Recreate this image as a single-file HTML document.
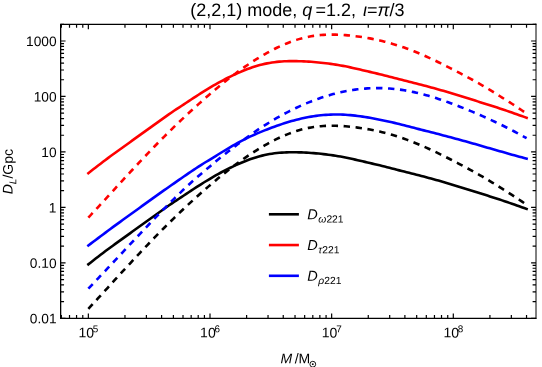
<!DOCTYPE html>
<html><head><meta charset="utf-8"><title>plot</title>
<style>
html,body{margin:0;padding:0;background:#fff;}
body{width:542px;height:367px;overflow:hidden;position:relative;font-family:"Liberation Sans",sans-serif;}
text{font-family:"Liberation Sans",sans-serif;fill:#000;text-rendering:geometricPrecision;}
.t14{font-size:14px;}
.tk{font-size:13.7px;}
.lg{font-size:14.5px;}
.sub2{font-size:10.3px;}
.t18{font-size:18px;}
.sub{font-size:10.0px;}
.sup{font-size:9.9px;}
</style></head><body>
<svg width="542" height="367" viewBox="0 0 542 367" style="position:absolute;left:0;top:0;will-change:transform">
<rect width="542" height="367" fill="#fff"/>
<path d="M88.35,264.32 L90.80,262.40 L93.25,260.49 L95.69,258.59 L98.14,256.71 L100.59,254.84 L103.04,252.96 L105.49,251.08 L107.94,249.24 L110.38,247.45 L112.83,245.69 L115.28,243.93 L117.73,242.17 L120.18,240.41 L122.63,238.64 L125.07,236.88 L127.52,235.10 L129.97,233.33 L132.42,231.55 L134.87,229.78 L137.32,228.02 L139.76,226.26 L142.21,224.50 L144.66,222.74 L147.11,220.98 L149.56,219.22 L152.01,217.47 L154.45,215.73 L156.90,213.99 L159.35,212.25 L161.80,210.52 L164.25,208.77 L166.70,207.04 L169.14,205.31 L171.59,203.60 L174.04,201.93 L176.49,200.34 L178.94,198.77 L181.39,197.15 L183.83,195.52 L186.28,193.88 L188.73,192.24 L191.18,190.63 L193.63,189.02 L196.08,187.44 L198.52,185.87 L200.97,184.31 L203.42,182.77 L205.87,181.26 L208.32,179.77 L210.77,178.30 L213.21,176.87 L215.66,175.46 L218.11,174.08 L220.56,172.74 L223.01,171.43 L225.46,170.16 L227.90,168.92 L230.35,167.72 L232.80,166.56 L235.25,165.43 L237.70,164.33 L240.15,163.25 L242.59,162.20 L245.04,161.18 L247.49,160.22 L249.94,159.32 L252.39,158.47 L254.84,157.68 L257.28,156.94 L259.73,156.25 L262.18,155.62 L264.63,155.04 L267.08,154.53 L269.53,154.07 L271.97,153.68 L274.42,153.33 L276.87,153.04 L279.32,152.80 L281.77,152.61 L284.22,152.46 L286.66,152.35 L289.11,152.28 L291.56,152.24 L294.01,152.24 L296.46,152.27 L298.91,152.33 L301.35,152.41 L303.80,152.51 L306.25,152.64 L308.70,152.80 L311.15,152.97 L313.60,153.16 L316.04,153.36 L318.49,153.58 L320.94,153.83 L323.39,154.10 L325.84,154.40 L328.29,154.72 L330.73,155.06 L333.18,155.41 L335.63,155.78 L338.08,156.17 L340.53,156.58 L342.98,157.02 L345.42,157.49 L347.87,157.99 L350.32,158.51 L352.77,159.06 L355.22,159.61 L357.67,160.17 L360.11,160.74 L362.56,161.31 L365.01,161.89 L367.46,162.47 L369.91,163.04 L372.36,163.62 L374.80,164.20 L377.25,164.77 L379.70,165.35 L382.15,165.93 L384.60,166.54 L387.05,167.16 L389.49,167.81 L391.94,168.45 L394.39,169.10 L396.84,169.74 L399.29,170.37 L401.74,170.98 L404.18,171.60 L406.63,172.22 L409.08,172.84 L411.53,173.46 L413.98,174.08 L416.43,174.71 L418.87,175.34 L421.32,175.97 L423.77,176.61 L426.22,177.25 L428.67,177.90 L431.12,178.56 L433.56,179.23 L436.01,179.91 L438.46,180.60 L440.91,181.29 L443.36,182.00 L445.81,182.71 L448.25,183.43 L450.70,184.16 L453.15,184.90 L455.60,185.65 L458.05,186.40 L460.50,187.15 L462.94,187.91 L465.39,188.68 L467.84,189.44 L470.29,190.21 L472.74,190.98 L475.19,191.75 L477.63,192.52 L480.08,193.29 L482.53,194.07 L484.98,194.84 L487.43,195.61 L489.88,196.39 L492.32,197.18 L494.77,197.97 L497.22,198.76 L499.67,199.57 L502.12,200.39 L504.57,201.21 L507.01,202.03 L509.46,202.87 L511.91,203.71 L514.36,204.57 L516.81,205.44 L519.26,206.30 L521.70,207.16 L524.15,208.04 L526.60,208.93" fill="none" stroke="#000000" stroke-width="2.6" stroke-linecap="square"/>
<path d="M88.35,173.17 L90.80,171.25 L93.25,169.34 L95.69,167.44 L98.14,165.56 L100.59,163.69 L103.04,161.81 L105.49,159.93 L107.94,158.09 L110.38,156.30 L112.83,154.54 L115.28,152.78 L117.73,151.02 L120.18,149.26 L122.63,147.49 L125.07,145.73 L127.52,143.95 L129.97,142.18 L132.42,140.40 L134.87,138.63 L137.32,136.87 L139.76,135.11 L142.21,133.35 L144.66,131.59 L147.11,129.83 L149.56,128.07 L152.01,126.32 L154.45,124.58 L156.90,122.84 L159.35,121.10 L161.80,119.37 L164.25,117.62 L166.70,115.89 L169.14,114.16 L171.59,112.45 L174.04,110.78 L176.49,109.19 L178.94,107.62 L181.39,106.00 L183.83,104.37 L186.28,102.73 L188.73,101.09 L191.18,99.48 L193.63,97.87 L196.08,96.29 L198.52,94.72 L200.97,93.16 L203.42,91.62 L205.87,90.11 L208.32,88.62 L210.77,87.15 L213.21,85.72 L215.66,84.31 L218.11,82.93 L220.56,81.59 L223.01,80.28 L225.46,79.01 L227.90,77.77 L230.35,76.57 L232.80,75.41 L235.25,74.28 L237.70,73.18 L240.15,72.10 L242.59,71.05 L245.04,70.03 L247.49,69.07 L249.94,68.17 L252.39,67.32 L254.84,66.53 L257.28,65.79 L259.73,65.10 L262.18,64.47 L264.63,63.89 L267.08,63.38 L269.53,62.92 L271.97,62.53 L274.42,62.18 L276.87,61.89 L279.32,61.65 L281.77,61.46 L284.22,61.31 L286.66,61.20 L289.11,61.13 L291.56,61.09 L294.01,61.09 L296.46,61.12 L298.91,61.18 L301.35,61.26 L303.80,61.36 L306.25,61.49 L308.70,61.65 L311.15,61.82 L313.60,62.01 L316.04,62.21 L318.49,62.43 L320.94,62.68 L323.39,62.95 L325.84,63.25 L328.29,63.57 L330.73,63.91 L333.18,64.26 L335.63,64.63 L338.08,65.02 L340.53,65.43 L342.98,65.87 L345.42,66.34 L347.87,66.84 L350.32,67.36 L352.77,67.91 L355.22,68.46 L357.67,69.02 L360.11,69.59 L362.56,70.16 L365.01,70.74 L367.46,71.32 L369.91,71.89 L372.36,72.47 L374.80,73.05 L377.25,73.62 L379.70,74.20 L382.15,74.78 L384.60,75.39 L387.05,76.01 L389.49,76.66 L391.94,77.30 L394.39,77.95 L396.84,78.59 L399.29,79.22 L401.74,79.83 L404.18,80.45 L406.63,81.07 L409.08,81.69 L411.53,82.31 L413.98,82.93 L416.43,83.56 L418.87,84.19 L421.32,84.82 L423.77,85.46 L426.22,86.10 L428.67,86.75 L431.12,87.41 L433.56,88.08 L436.01,88.76 L438.46,89.45 L440.91,90.14 L443.36,90.85 L445.81,91.56 L448.25,92.28 L450.70,93.01 L453.15,93.75 L455.60,94.50 L458.05,95.25 L460.50,96.00 L462.94,96.76 L465.39,97.53 L467.84,98.29 L470.29,99.06 L472.74,99.83 L475.19,100.60 L477.63,101.37 L480.08,102.14 L482.53,102.92 L484.98,103.69 L487.43,104.46 L489.88,105.24 L492.32,106.03 L494.77,106.82 L497.22,107.61 L499.67,108.42 L502.12,109.24 L504.57,110.06 L507.01,110.88 L509.46,111.72 L511.91,112.56 L514.36,113.42 L516.81,114.29 L519.26,115.15 L521.70,116.01 L524.15,116.89 L526.60,117.78" fill="none" stroke="#ff0000" stroke-width="2.6" stroke-linecap="square"/>
<path d="M88.35,245.51 L90.80,243.65 L93.25,241.80 L95.69,239.95 L98.14,238.10 L100.59,236.26 L103.04,234.43 L105.49,232.60 L107.94,230.78 L110.38,228.97 L112.83,227.17 L115.28,225.39 L117.73,223.61 L120.18,221.83 L122.63,220.05 L125.07,218.28 L127.52,216.51 L129.97,214.74 L132.42,212.97 L134.87,211.21 L137.32,209.44 L139.76,207.68 L142.21,205.92 L144.66,204.16 L147.11,202.40 L149.56,200.64 L152.01,198.88 L154.45,197.13 L156.90,195.39 L159.35,193.65 L161.80,191.91 L164.25,190.18 L166.70,188.46 L169.14,186.74 L171.59,185.02 L174.04,183.31 L176.49,181.61 L178.94,179.91 L181.39,178.22 L183.83,176.54 L186.28,174.86 L188.73,173.19 L191.18,171.53 L193.63,169.88 L196.08,168.25 L198.52,166.63 L200.97,165.04 L203.42,163.50 L205.87,162.00 L208.32,160.53 L210.77,159.05 L213.21,157.56 L215.66,156.04 L218.11,154.52 L220.56,153.00 L223.01,151.51 L225.46,150.03 L227.90,148.58 L230.35,147.15 L232.80,145.74 L235.25,144.36 L237.70,143.00 L240.15,141.66 L242.59,140.36 L245.04,139.09 L247.49,137.87 L249.94,136.70 L252.39,135.58 L254.84,134.49 L257.28,133.43 L259.73,132.39 L262.18,131.37 L264.63,130.38 L267.08,129.42 L269.53,128.49 L271.97,127.58 L274.42,126.69 L276.87,125.82 L279.32,124.96 L281.77,124.13 L284.22,123.32 L286.66,122.54 L289.11,121.79 L291.56,121.08 L294.01,120.40 L296.46,119.76 L298.91,119.16 L301.35,118.58 L303.80,118.04 L306.25,117.54 L308.70,117.06 L311.15,116.63 L313.60,116.23 L316.04,115.88 L318.49,115.56 L320.94,115.28 L323.39,115.04 L325.84,114.85 L328.29,114.70 L330.73,114.59 L333.18,114.53 L335.63,114.50 L338.08,114.51 L340.53,114.57 L342.98,114.65 L345.42,114.78 L347.87,114.94 L350.32,115.14 L352.77,115.37 L355.22,115.64 L357.67,115.93 L360.11,116.26 L362.56,116.60 L365.01,116.98 L367.46,117.37 L369.91,117.79 L372.36,118.22 L374.80,118.68 L377.25,119.16 L379.70,119.65 L382.15,120.15 L384.60,120.67 L387.05,121.21 L389.49,121.75 L391.94,122.31 L394.39,122.89 L396.84,123.48 L399.29,124.09 L401.74,124.70 L404.18,125.33 L406.63,125.95 L409.08,126.58 L411.53,127.22 L413.98,127.85 L416.43,128.49 L418.87,129.12 L421.32,129.74 L423.77,130.37 L426.22,130.98 L428.67,131.60 L431.12,132.22 L433.56,132.85 L436.01,133.48 L438.46,134.11 L440.91,134.75 L443.36,135.39 L445.81,136.03 L448.25,136.68 L450.70,137.34 L453.15,138.00 L455.60,138.66 L458.05,139.33 L460.50,140.00 L462.94,140.67 L465.39,141.36 L467.84,142.04 L470.29,142.73 L472.74,143.42 L475.19,144.12 L477.63,144.82 L480.08,145.52 L482.53,146.22 L484.98,146.92 L487.43,147.63 L489.88,148.33 L492.32,149.04 L494.77,149.74 L497.22,150.45 L499.67,151.15 L502.12,151.85 L504.57,152.55 L507.01,153.25 L509.46,153.94 L511.91,154.63 L514.36,155.32 L516.81,156.01 L519.26,156.69 L521.70,157.36 L524.15,158.03 L526.60,158.69" fill="none" stroke="#0000ff" stroke-width="2.6" stroke-linecap="square"/>
<path d="M88.35,308.88 L90.80,306.15 L93.25,303.46 L95.69,300.81 L98.14,298.16 L100.59,295.51 L103.04,292.86 L105.49,290.20 L107.94,287.53 L110.38,284.84 L112.83,282.16 L115.28,279.47 L117.73,276.78 L120.18,274.10 L122.63,271.44 L125.07,268.79 L127.52,266.15 L129.97,263.52 L132.42,260.89 L134.87,258.27 L137.32,255.66 L139.76,253.05 L142.21,250.46 L144.66,247.87 L147.11,245.29 L149.56,242.73 L152.01,240.18 L154.45,237.65 L156.90,235.14 L159.35,232.65 L161.80,230.17 L164.25,227.72 L166.70,225.28 L169.14,222.86 L171.59,220.46 L174.04,218.07 L176.49,215.69 L178.94,213.34 L181.39,211.01 L183.83,208.71 L186.28,206.42 L188.73,204.16 L191.18,201.91 L193.63,199.68 L196.08,197.46 L198.52,195.26 L200.97,193.07 L203.42,190.90 L205.87,188.75 L208.32,186.63 L210.77,184.52 L213.21,182.44 L215.66,180.39 L218.11,178.36 L220.56,176.35 L223.01,174.36 L225.46,172.40 L227.90,170.46 L230.35,168.56 L232.80,166.69 L235.25,164.85 L237.70,163.04 L240.15,161.27 L242.59,159.53 L245.04,157.82 L247.49,156.16 L249.94,154.52 L252.39,152.91 L254.84,151.34 L257.28,149.80 L259.73,148.30 L262.18,146.83 L264.63,145.41 L267.08,144.03 L269.53,142.69 L271.97,141.39 L274.42,140.14 L276.87,138.93 L279.32,137.78 L281.77,136.67 L284.22,135.61 L286.66,134.60 L289.11,133.63 L291.56,132.71 L294.01,131.85 L296.46,131.04 L298.91,130.28 L301.35,129.58 L303.80,128.95 L306.25,128.38 L308.70,127.87 L311.15,127.42 L313.60,127.03 L316.04,126.70 L318.49,126.41 L320.94,126.18 L323.39,126.00 L325.84,125.87 L328.29,125.78 L330.73,125.74 L333.18,125.74 L335.63,125.79 L338.08,125.86 L340.53,125.98 L342.98,126.12 L345.42,126.30 L347.87,126.51 L350.32,126.74 L352.77,127.00 L355.22,127.29 L357.67,127.60 L360.11,127.93 L362.56,128.30 L365.01,128.69 L367.46,129.11 L369.91,129.55 L372.36,130.02 L374.80,130.52 L377.25,131.05 L379.70,131.60 L382.15,132.19 L384.60,132.80 L387.05,133.44 L389.49,134.11 L391.94,134.81 L394.39,135.54 L396.84,136.29 L399.29,137.08 L401.74,137.90 L404.18,138.75 L406.63,139.63 L409.08,140.53 L411.53,141.47 L413.98,142.44 L416.43,143.43 L418.87,144.45 L421.32,145.49 L423.77,146.55 L426.22,147.64 L428.67,148.75 L431.12,149.87 L433.56,151.02 L436.01,152.19 L438.46,153.37 L440.91,154.56 L443.36,155.77 L445.81,157.00 L448.25,158.24 L450.70,159.48 L453.15,160.74 L455.60,162.01 L458.05,163.28 L460.50,164.57 L462.94,165.87 L465.39,167.17 L467.84,168.49 L470.29,169.82 L472.74,171.16 L475.19,172.51 L477.63,173.88 L480.08,175.26 L482.53,176.66 L484.98,178.10 L487.43,179.56 L489.88,181.05 L492.32,182.55 L494.77,184.07 L497.22,185.61 L499.67,187.15 L502.12,188.70 L504.57,190.24 L507.01,191.78 L509.46,193.35 L511.91,194.93 L514.36,196.52 L516.81,198.13 L519.26,199.76 L521.70,201.40 L524.15,203.06 L526.60,204.74" fill="none" stroke="#000000" stroke-width="2.6" stroke-dasharray="6.4,5.6"/>
<path d="M88.35,217.73 L90.80,215.00 L93.25,212.31 L95.69,209.66 L98.14,207.01 L100.59,204.36 L103.04,201.71 L105.49,199.05 L107.94,196.38 L110.38,193.69 L112.83,191.01 L115.28,188.32 L117.73,185.63 L120.18,182.95 L122.63,180.29 L125.07,177.64 L127.52,175.00 L129.97,172.37 L132.42,169.74 L134.87,167.12 L137.32,164.51 L139.76,161.90 L142.21,159.31 L144.66,156.72 L147.11,154.14 L149.56,151.58 L152.01,149.03 L154.45,146.50 L156.90,143.99 L159.35,141.50 L161.80,139.02 L164.25,136.57 L166.70,134.13 L169.14,131.71 L171.59,129.31 L174.04,126.92 L176.49,124.54 L178.94,122.19 L181.39,119.86 L183.83,117.56 L186.28,115.27 L188.73,113.01 L191.18,110.76 L193.63,108.53 L196.08,106.31 L198.52,104.11 L200.97,101.92 L203.42,99.75 L205.87,97.60 L208.32,95.48 L210.77,93.37 L213.21,91.29 L215.66,89.24 L218.11,87.21 L220.56,85.20 L223.01,83.21 L225.46,81.25 L227.90,79.31 L230.35,77.41 L232.80,75.54 L235.25,73.70 L237.70,71.89 L240.15,70.12 L242.59,68.38 L245.04,66.67 L247.49,65.01 L249.94,63.37 L252.39,61.76 L254.84,60.19 L257.28,58.65 L259.73,57.15 L262.18,55.68 L264.63,54.26 L267.08,52.88 L269.53,51.54 L271.97,50.24 L274.42,48.99 L276.87,47.78 L279.32,46.63 L281.77,45.52 L284.22,44.46 L286.66,43.45 L289.11,42.48 L291.56,41.56 L294.01,40.70 L296.46,39.89 L298.91,39.13 L301.35,38.43 L303.80,37.80 L306.25,37.23 L308.70,36.72 L311.15,36.27 L313.60,35.88 L316.04,35.55 L318.49,35.26 L320.94,35.03 L323.39,34.85 L325.84,34.72 L328.29,34.63 L330.73,34.59 L333.18,34.59 L335.63,34.64 L338.08,34.71 L340.53,34.83 L342.98,34.97 L345.42,35.15 L347.87,35.36 L350.32,35.59 L352.77,35.85 L355.22,36.14 L357.67,36.45 L360.11,36.78 L362.56,37.15 L365.01,37.54 L367.46,37.96 L369.91,38.40 L372.36,38.87 L374.80,39.37 L377.25,39.90 L379.70,40.45 L382.15,41.04 L384.60,41.65 L387.05,42.29 L389.49,42.96 L391.94,43.66 L394.39,44.39 L396.84,45.14 L399.29,45.93 L401.74,46.75 L404.18,47.60 L406.63,48.48 L409.08,49.38 L411.53,50.32 L413.98,51.29 L416.43,52.28 L418.87,53.30 L421.32,54.34 L423.77,55.40 L426.22,56.49 L428.67,57.60 L431.12,58.72 L433.56,59.87 L436.01,61.04 L438.46,62.22 L440.91,63.41 L443.36,64.62 L445.81,65.85 L448.25,67.09 L450.70,68.33 L453.15,69.59 L455.60,70.86 L458.05,72.13 L460.50,73.42 L462.94,74.72 L465.39,76.02 L467.84,77.34 L470.29,78.67 L472.74,80.01 L475.19,81.36 L477.63,82.73 L480.08,84.11 L482.53,85.51 L484.98,86.95 L487.43,88.41 L489.88,89.90 L492.32,91.40 L494.77,92.92 L497.22,94.46 L499.67,96.00 L502.12,97.55 L504.57,99.09 L507.01,100.63 L509.46,102.20 L511.91,103.78 L514.36,105.37 L516.81,106.98 L519.26,108.61 L521.70,110.25 L524.15,111.91 L526.60,113.59" fill="none" stroke="#ff0000" stroke-width="2.6" stroke-dasharray="6.4,5.6"/>
<path d="M88.35,288.68 L90.80,286.08 L93.25,283.49 L95.69,280.90 L98.14,278.32 L100.59,275.73 L103.04,273.14 L105.49,270.55 L107.94,267.95 L110.38,265.34 L112.83,262.74 L115.28,260.13 L117.73,257.51 L120.18,254.90 L122.63,252.28 L125.07,249.67 L127.52,247.06 L129.97,244.45 L132.42,241.84 L134.87,239.24 L137.32,236.64 L139.76,234.05 L142.21,231.46 L144.66,228.88 L147.11,226.31 L149.56,223.75 L152.01,221.19 L154.45,218.65 L156.90,216.12 L159.35,213.60 L161.80,211.10 L164.25,208.61 L166.70,206.13 L169.14,203.67 L171.59,201.23 L174.04,198.80 L176.49,196.39 L178.94,194.01 L181.39,191.64 L183.83,189.29 L186.28,186.97 L188.73,184.70 L191.18,182.48 L193.63,180.30 L196.08,178.15 L198.52,176.02 L200.97,173.90 L203.42,171.81 L205.87,169.75 L208.32,167.71 L210.77,165.68 L213.21,163.65 L215.66,161.61 L218.11,159.59 L220.56,157.59 L223.01,155.61 L225.46,153.66 L227.90,151.73 L230.35,149.83 L232.80,147.95 L235.25,146.10 L237.70,144.27 L240.15,142.47 L242.59,140.68 L245.04,138.88 L247.49,137.09 L249.94,135.32 L252.39,133.56 L254.84,131.84 L257.28,130.15 L259.73,128.51 L262.18,126.91 L264.63,125.34 L267.08,123.80 L269.53,122.29 L271.97,120.80 L274.42,119.35 L276.87,117.93 L279.32,116.54 L281.77,115.18 L284.22,113.86 L286.66,112.57 L289.11,111.31 L291.56,110.09 L294.01,108.90 L296.46,107.74 L298.91,106.60 L301.35,105.50 L303.80,104.44 L306.25,103.40 L308.70,102.39 L311.15,101.42 L313.60,100.47 L316.04,99.56 L318.49,98.69 L320.94,97.84 L323.39,97.03 L325.84,96.25 L328.29,95.51 L330.73,94.80 L333.18,94.12 L335.63,93.48 L338.08,92.88 L340.53,92.31 L342.98,91.77 L345.42,91.27 L347.87,90.81 L350.32,90.38 L352.77,89.99 L355.22,89.64 L357.67,89.32 L360.11,89.04 L362.56,88.80 L365.01,88.59 L367.46,88.42 L369.91,88.29 L372.36,88.19 L374.80,88.13 L377.25,88.10 L379.70,88.12 L382.15,88.16 L384.60,88.25 L387.05,88.37 L389.49,88.53 L391.94,88.72 L394.39,88.96 L396.84,89.22 L399.29,89.53 L401.74,89.87 L404.18,90.25 L406.63,90.66 L409.08,91.11 L411.53,91.60 L413.98,92.11 L416.43,92.67 L418.87,93.25 L421.32,93.86 L423.77,94.50 L426.22,95.17 L428.67,95.87 L431.12,96.59 L433.56,97.34 L436.01,98.11 L438.46,98.91 L440.91,99.73 L443.36,100.57 L445.81,101.42 L448.25,102.30 L450.70,103.20 L453.15,104.11 L455.60,105.03 L458.05,105.98 L460.50,106.93 L462.94,107.90 L465.39,108.88 L467.84,109.87 L470.29,110.88 L472.74,111.90 L475.19,112.93 L477.63,113.98 L480.08,115.04 L482.53,116.11 L484.98,117.20 L487.43,118.31 L489.88,119.43 L492.32,120.56 L494.77,121.72 L497.22,122.88 L499.67,124.07 L502.12,125.27 L504.57,126.48 L507.01,127.72 L509.46,128.97 L511.91,130.24 L514.36,131.52 L516.81,132.83 L519.26,134.15 L521.70,135.49 L524.15,136.85 L526.60,138.23" fill="none" stroke="#0000ff" stroke-width="2.6" stroke-dasharray="6.4,5.6"/>
<path d="M60.65,23.650000000000002 V318.95 M60.0,24.3 H536.4 M60.0,318.3 H536.4" fill="none" stroke="#000" stroke-width="1.3"/>
<path d="M536.0,23.650000000000002 V318.95" fill="none" stroke="#000" stroke-width="1.0"/>
<path d="M61.36,318.3 v-3.4 M61.36,24.3 v3.4 M69.51,318.3 v-3.4 M69.51,24.3 v3.4 M76.56,318.3 v-3.4 M76.56,24.3 v3.4 M82.78,318.3 v-3.4 M82.78,24.3 v3.4 M88.35,318.3 v-4.9 M88.35,24.3 v4.9 M124.97,318.3 v-3.4 M124.97,24.3 v3.4 M146.39,318.3 v-3.4 M146.39,24.3 v3.4 M161.59,318.3 v-3.4 M161.59,24.3 v3.4 M173.38,318.3 v-3.4 M173.38,24.3 v3.4 M183.01,318.3 v-3.4 M183.01,24.3 v3.4 M191.16,318.3 v-3.4 M191.16,24.3 v3.4 M198.21,318.3 v-3.4 M198.21,24.3 v3.4 M204.43,318.3 v-3.4 M204.43,24.3 v3.4 M210.00,318.3 v-4.9 M210.00,24.3 v4.9 M246.62,318.3 v-3.4 M246.62,24.3 v3.4 M268.04,318.3 v-3.4 M268.04,24.3 v3.4 M283.24,318.3 v-3.4 M283.24,24.3 v3.4 M295.03,318.3 v-3.4 M295.03,24.3 v3.4 M304.66,318.3 v-3.4 M304.66,24.3 v3.4 M312.81,318.3 v-3.4 M312.81,24.3 v3.4 M319.86,318.3 v-3.4 M319.86,24.3 v3.4 M326.08,318.3 v-3.4 M326.08,24.3 v3.4 M331.65,318.3 v-4.9 M331.65,24.3 v4.9 M368.27,318.3 v-3.4 M368.27,24.3 v3.4 M389.69,318.3 v-3.4 M389.69,24.3 v3.4 M404.89,318.3 v-3.4 M404.89,24.3 v3.4 M416.68,318.3 v-3.4 M416.68,24.3 v3.4 M426.31,318.3 v-3.4 M426.31,24.3 v3.4 M434.46,318.3 v-3.4 M434.46,24.3 v3.4 M441.51,318.3 v-3.4 M441.51,24.3 v3.4 M447.73,318.3 v-3.4 M447.73,24.3 v3.4 M453.30,318.3 v-4.9 M453.30,24.3 v4.9 M489.92,318.3 v-3.4 M489.92,24.3 v3.4 M511.34,318.3 v-3.4 M511.34,24.3 v3.4 M526.54,318.3 v-3.4 M526.54,24.3 v3.4 M60.65,318.35 h4.9 M536.0,318.35 h-4.9 M60.65,301.65 h3.4 M536.0,301.65 h-3.4 M60.65,291.88 h3.4 M536.0,291.88 h-3.4 M60.65,284.95 h3.4 M536.0,284.95 h-3.4 M60.65,279.58 h3.4 M536.0,279.58 h-3.4 M60.65,275.19 h3.4 M536.0,275.19 h-3.4 M60.65,271.47 h3.4 M536.0,271.47 h-3.4 M60.65,268.26 h3.4 M536.0,268.26 h-3.4 M60.65,265.42 h3.4 M536.0,265.42 h-3.4 M60.65,262.88 h4.9 M536.0,262.88 h-4.9 M60.65,246.18 h3.4 M536.0,246.18 h-3.4 M60.65,236.41 h3.4 M536.0,236.41 h-3.4 M60.65,229.48 h3.4 M536.0,229.48 h-3.4 M60.65,224.11 h3.4 M536.0,224.11 h-3.4 M60.65,219.72 h3.4 M536.0,219.72 h-3.4 M60.65,216.00 h3.4 M536.0,216.00 h-3.4 M60.65,212.79 h3.4 M536.0,212.79 h-3.4 M60.65,209.95 h3.4 M536.0,209.95 h-3.4 M60.65,207.41 h4.9 M536.0,207.41 h-4.9 M60.65,190.71 h3.4 M536.0,190.71 h-3.4 M60.65,180.94 h3.4 M536.0,180.94 h-3.4 M60.65,174.01 h3.4 M536.0,174.01 h-3.4 M60.65,168.64 h3.4 M536.0,168.64 h-3.4 M60.65,164.25 h3.4 M536.0,164.25 h-3.4 M60.65,160.53 h3.4 M536.0,160.53 h-3.4 M60.65,157.32 h3.4 M536.0,157.32 h-3.4 M60.65,154.48 h3.4 M536.0,154.48 h-3.4 M60.65,151.94 h4.9 M536.0,151.94 h-4.9 M60.65,135.24 h3.4 M536.0,135.24 h-3.4 M60.65,125.47 h3.4 M536.0,125.47 h-3.4 M60.65,118.54 h3.4 M536.0,118.54 h-3.4 M60.65,113.17 h3.4 M536.0,113.17 h-3.4 M60.65,108.78 h3.4 M536.0,108.78 h-3.4 M60.65,105.06 h3.4 M536.0,105.06 h-3.4 M60.65,101.85 h3.4 M536.0,101.85 h-3.4 M60.65,99.01 h3.4 M536.0,99.01 h-3.4 M60.65,96.47 h4.9 M536.0,96.47 h-4.9 M60.65,79.77 h3.4 M536.0,79.77 h-3.4 M60.65,70.00 h3.4 M536.0,70.00 h-3.4 M60.65,63.07 h3.4 M536.0,63.07 h-3.4 M60.65,57.70 h3.4 M536.0,57.70 h-3.4 M60.65,53.31 h3.4 M536.0,53.31 h-3.4 M60.65,49.59 h3.4 M536.0,49.59 h-3.4 M60.65,46.38 h3.4 M536.0,46.38 h-3.4 M60.65,43.54 h3.4 M536.0,43.54 h-3.4 M60.65,41.00 h4.9 M536.0,41.00 h-4.9 M60.65,24.30 h3.4 M536.0,24.30 h-3.4" stroke="#000" stroke-width="1.2" fill="none"/>
<path d="M268.9,214.30 H298.9" stroke="#000000" stroke-width="2.6"/>
<text x="307.2" y="219.40" transform="rotate(0.2 320 219.40)" class="lg"><tspan font-style="italic">D</tspan><tspan class="sub2" dy="3.1" dx="0.7"><tspan font-style="italic">ω</tspan>221</tspan></text>
<path d="M268.9,245.05 H298.9" stroke="#ff0000" stroke-width="2.6"/>
<text x="307.2" y="250.15" transform="rotate(0.2 320 250.15)" class="lg"><tspan font-style="italic">D</tspan><tspan class="sub2" dy="3.1" dx="0.7"><tspan font-style="italic">τ</tspan>221</tspan></text>
<path d="M268.9,275.80 H298.9" stroke="#0000ff" stroke-width="2.6"/>
<text x="307.2" y="280.90" transform="rotate(0.2 320 280.90)" class="lg"><tspan font-style="italic">D</tspan><tspan class="sub2" dy="3.1" dx="0.7"><tspan font-style="italic">ρ</tspan>221</tspan></text>
<text x="56.5" y="46.00" transform="rotate(0.2 45 46.00)" class="tk" text-anchor="end">1000</text>
<text x="56.5" y="101.47" transform="rotate(0.2 45 101.47)" class="tk" text-anchor="end">100</text>
<text x="56.5" y="156.94" transform="rotate(0.2 45 156.94)" class="tk" text-anchor="end">10</text>
<text x="56.5" y="212.41" transform="rotate(0.2 45 212.41)" class="tk" text-anchor="end">1</text>
<text x="56.5" y="267.88" transform="rotate(0.2 45 267.88)" class="tk" text-anchor="end">0.10</text>
<text x="56.5" y="323.35" transform="rotate(0.2 45 323.35)" class="tk" text-anchor="end">0.01</text>
<text x="78.45" y="337.4" transform="rotate(0.2 88.35 337.4)" class="t14">10<tspan class="sup" dy="-5.2" dx="-1.2">5</tspan></text>
<text x="200.10" y="337.4" transform="rotate(0.2 210.00 337.4)" class="t14">10<tspan class="sup" dy="-5.2" dx="-1.2">6</tspan></text>
<text x="321.75" y="337.4" transform="rotate(0.2 331.65 337.4)" class="t14">10<tspan class="sup" dy="-5.2" dx="-1.2">7</tspan></text>
<text x="443.40" y="337.4" transform="rotate(0.2 453.30 337.4)" class="t14">10<tspan class="sup" dy="-5.2" dx="-1.2">8</tspan></text>
<text x="190.3" y="16.2" class="t18">(2,2,1) mode, <tspan font-style="italic">q</tspan><tspan dx="3.2">=1.2, </tspan><tspan font-style="italic" dx="1.8">ι</tspan>=<tspan font-style="italic">π</tspan>/3</text>
<text x="280.5" y="363.2" transform="rotate(0.2 295 363.2)" class="t14"><tspan font-style="italic">M</tspan><tspan dx="2.5">/M</tspan></text>
<circle cx="312.8" cy="364.2" r="2.9" fill="none" stroke="#000" stroke-width="0.9"/><circle cx="312.8" cy="364.2" r="0.9" fill="#000"/>
<text transform="translate(12.6,194.3) rotate(-89.8)" class="t14"><tspan font-style="italic">D</tspan><tspan class="sub" dy="3.7" font-style="italic">L</tspan><tspan dy="-3.7">/Gpc</tspan></text>
</svg>
</body></html>
